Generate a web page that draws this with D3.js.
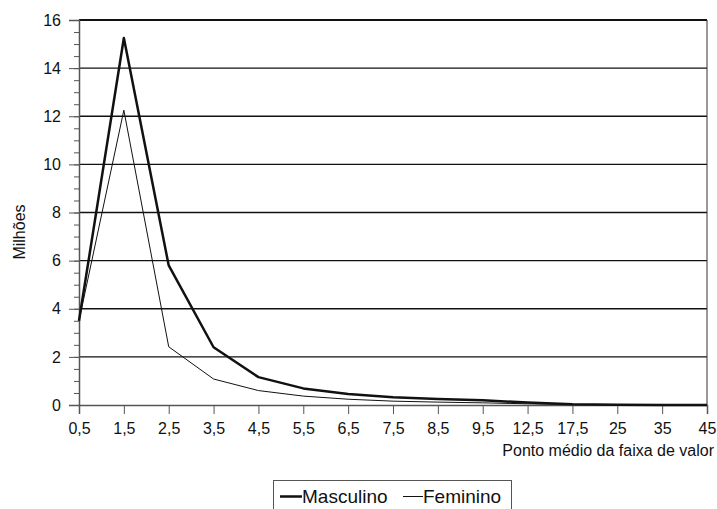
<!DOCTYPE html>
<html>
<head>
<meta charset="utf-8">
<script src="https://cdn.jsdelivr.net/npm/d3@7"></script>
<style>
  body { margin: 0; background: #fff; }
  text { font-family: "Liberation Sans", Arial, sans-serif; fill: #111; }
</style>
</head>
<body>
<div id="chart"></div>
<script>
// ============
// Data
// ============
var categories = ["0,5", "1,5", "2,5", "3,5", "4,5", "5,5", "6,5", "7,5", "8,5", "9,5", "12,5", "17,5", "25", "35", "45"];
var masculino = [3.5, 15.25, 5.8, 2.4, 1.16, 0.69, 0.46, 0.32, 0.25, 0.2, 0.1, 0.03, 0.01, 0, 0];
var feminino = [3.5, 12.25, 2.42, 1.08, 0.6, 0.37, 0.24, 0.16, 0.12, 0.09, 0.05, 0.02, 0.01, 0, 0];
var yTicks = [0, 2, 4, 6, 8, 10, 12, 14, 16];

// ============
// Set up of the chart
// ============
var svgWidth = 717;
var svgHeight = 509;

var margin = { top: 20, right: 10, bottom: 104, left: 79 };
var width = svgWidth - margin.left - margin.right;
var height = svgHeight - margin.top - margin.bottom;

var svg = d3.select("#chart")
  .append("svg")
  .attr("width", svgWidth)
  .attr("height", svgHeight);

var chartGroup = svg.append("g")
  .attr("transform", `translate(${margin.left}, ${margin.top})`);

var xScale = d3.scalePoint()
  .domain(categories)
  .range([0, width]);

var yScale = d3.scaleLinear()
  .domain([0, 16])
  .range([height, 0]);

// horizontal gridlines
chartGroup.selectAll(".grid")
  .data(yTicks.filter(d => d > 0))
  .enter()
  .append("line")
  .attr("x1", 0)
  .attr("x2", width)
  .attr("y1", d => yScale(d))
  .attr("y2", d => yScale(d))
  .attr("stroke", "#111")
  .attr("stroke-width", d => d === 16 ? 2 : 1.4);

// right border
chartGroup.append("line")
  .attr("x1", width).attr("x2", width)
  .attr("y1", 0).attr("y2", height)
  .attr("stroke", "#333")
  .attr("stroke-width", 1);

// minor y ticks every 0.5
chartGroup.append("g")
  .call(d3.axisLeft(yScale).tickValues(d3.range(0, 16.01, 0.5)).tickSize(5).tickFormat(""))
  .call(g => g.select(".domain").remove())
  .selectAll("line").attr("stroke", "#555");

// y axis
var yAxis = chartGroup.append("g")
  .call(d3.axisLeft(yScale).tickValues(yTicks).tickSize(10).tickPadding(8));
yAxis.select(".domain").attr("stroke", "#555").attr("stroke-width", 1.5);
yAxis.selectAll("line").attr("stroke", "#555");
yAxis.selectAll("text").style("font-size", "16px").attr("fill", "#111");

// x axis
var xAxis = chartGroup.append("g")
  .attr("transform", `translate(0, ${height})`)
  .call(d3.axisBottom(xScale).tickSize(9).tickPadding(9));
xAxis.select(".domain").attr("stroke", "#555").attr("stroke-width", 1.5);
xAxis.selectAll("line").attr("stroke", "#555");
xAxis.selectAll("text").style("font-size", "16px").attr("fill", "#111");

// lines
var line = d3.line()
  .x((d, i) => xScale(categories[i]))
  .y(d => yScale(d));

chartGroup.append("path")
  .datum(feminino)
  .attr("d", line)
  .attr("fill", "none")
  .attr("stroke", "#111")
  .attr("stroke-width", 1);

chartGroup.append("path")
  .datum(masculino)
  .attr("d", line)
  .attr("fill", "none")
  .attr("stroke", "#111")
  .attr("stroke-width", 2.5)
  .attr("stroke-linejoin", "round");

// axis titles
svg.append("text")
  .attr("transform", `translate(25, 232) rotate(-90)`)
  .attr("text-anchor", "middle")
  .style("font-size", "16px")
  .text("Milhões");

svg.append("text")
  .attr("x", 714)
  .attr("y", 456)
  .attr("text-anchor", "end")
  .style("font-size", "16px")
  .text("Ponto médio da faixa de valor");

// legend
var legend = svg.append("g").attr("transform", "translate(273, 480)");
legend.append("rect")
  .attr("x", 0.5).attr("y", 0.5)
  .attr("width", 238).attr("height", 40)
  .attr("fill", "none")
  .attr("stroke", "#555");

legend.append("line")
  .attr("x1", 7).attr("x2", 29).attr("y1", 16.5).attr("y2", 16.5)
  .attr("stroke", "#111").attr("stroke-width", 2.5);
legend.append("text")
  .attr("x", 29).attr("y", 23)
  .style("font-size", "19px")
  .text("Masculino");

legend.append("line")
  .attr("x1", 130).attr("x2", 150).attr("y1", 16.5).attr("y2", 16.5)
  .attr("stroke", "#111").attr("stroke-width", 1);
legend.append("text")
  .attr("x", 150).attr("y", 23)
  .style("font-size", "19px")
  .text("Feminino");
</script>
</body>
</html>
